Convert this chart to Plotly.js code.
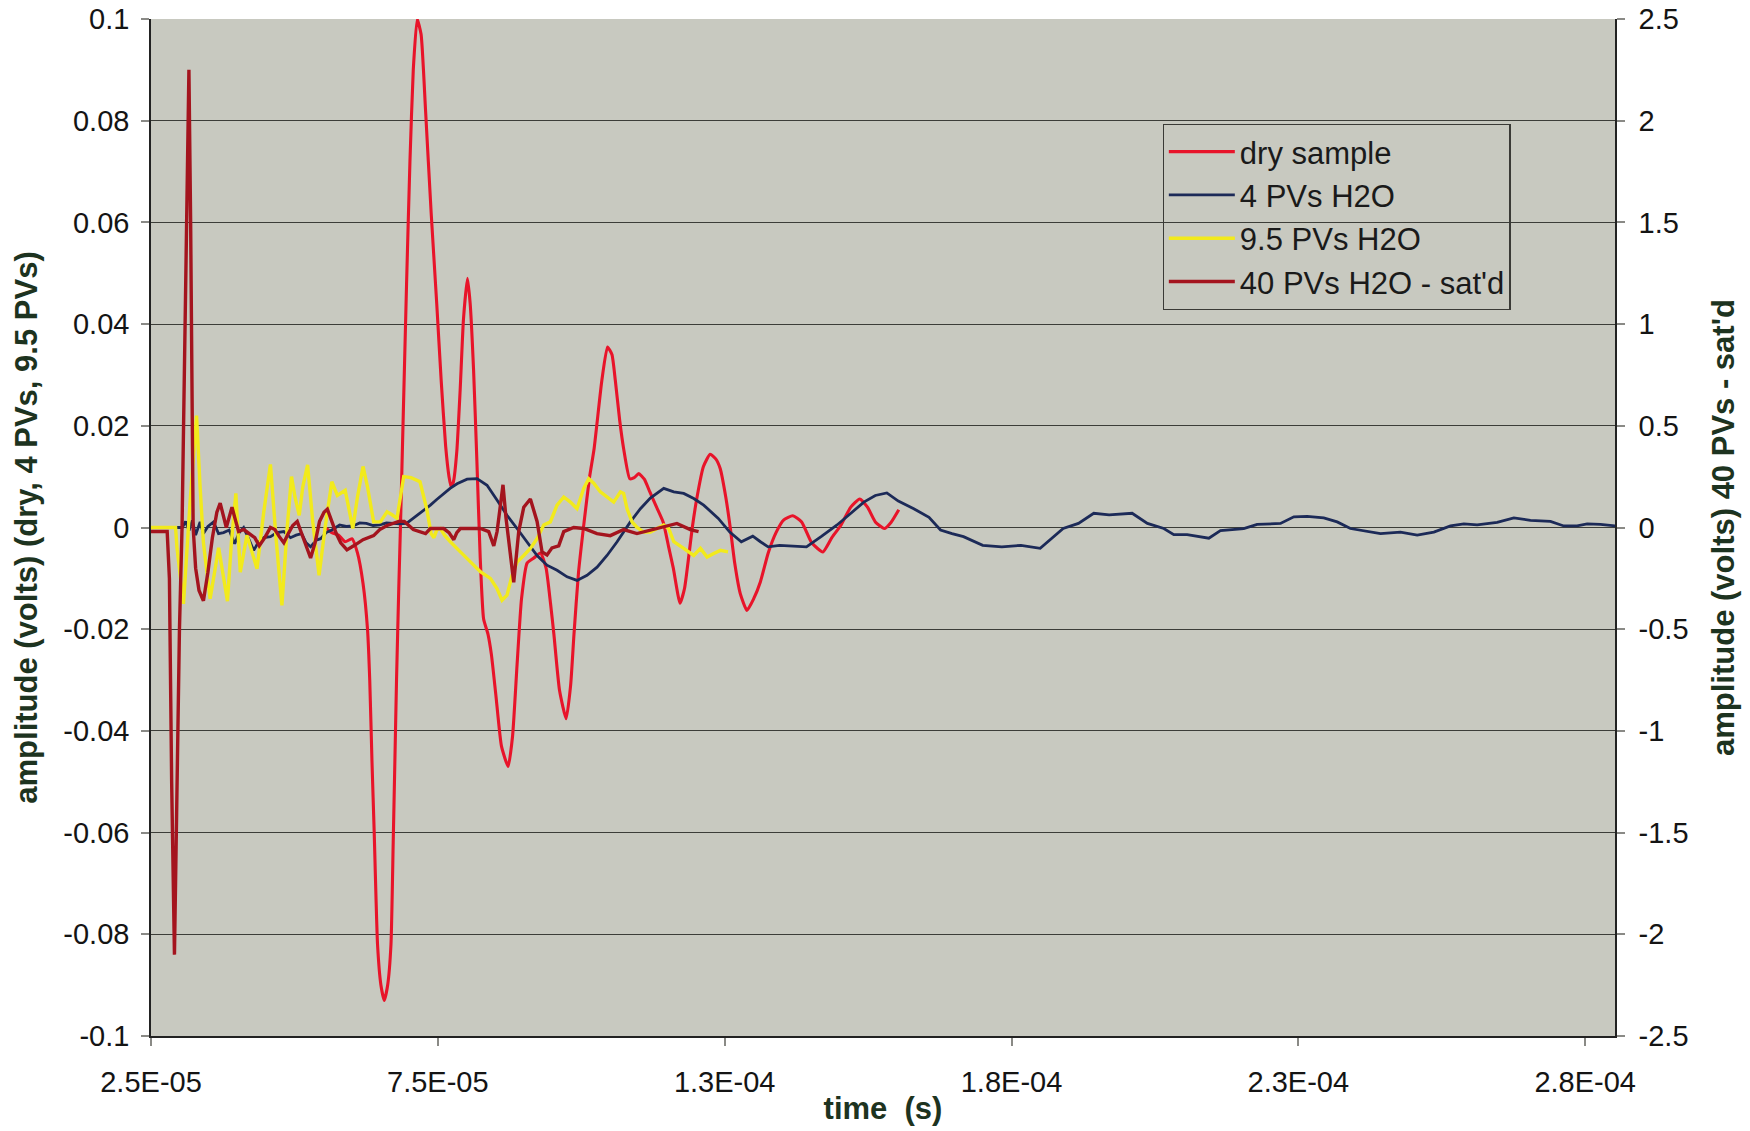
<!DOCTYPE html>
<html>
<head>
<meta charset="utf-8">
<script src="https://cdn.plot.ly/plotly-3.0.1.min.js"></script>
<style>
  html, body { margin: 0; padding: 0; background: #ffffff; }
  #chart { width: 1750px; height: 1131px; }
</style>
</head>
<body>
<div id="chart"></div>
<script>
// Waveform samples: times in microseconds (converted to seconds below), amplitudes in volts.
const dryTimeUs = [55.35,56.52,57.68,58.85,60.02,60.99,61.96,62.74,63.13,63.52,
  63.91,64.49,65.08,65.66,66.25,66.83,67.22,67.51,67.80,68.19,
  68.48,68.97,69.55,70.14,70.72,71.40,72.08,72.86,73.83,74.81,
  75.58,76.36,76.95,77.33,77.72,78.31,78.89,79.47,80.16,80.64,
  81.23,81.81,82.39,82.98,83.75,84.34,85.12,86.09,87.26,88.03,
  88.81,89.59,90.56,91.73,92.90,93.87,94.65,95.23,96.21,97.37,
  98.15,98.73,99.51,100.49,101.46,102.24,103.60,104.57,105.35,105.93,
  106.71,107.39,108.46,109.24,110.02,110.99,111.96,113.13,114.30,115.27,
  116.05,117.22,118.00,118.77,119.36,120.14,121.30,122.47,123.44,124.22,
  125.19,125.97,126.75,127.72,128.89,130.06,131.22,132.59,133.95,135.31,
  136.87,138.42,140.17,142.12,143.68,145.23,146.98,148.54,149.90,151.26,
  152.82,153.99,155.35];
const dryVolts = [0,-0.001,-0.0015,-0.0028,-0.0022,-0.005,-0.011,-0.02,-0.03,-0.046,
  -0.06,-0.082,-0.09,-0.093,-0.09,-0.082,-0.062,-0.046,-0.03,-0.012,
  0.0,0.022,0.048,0.072,0.09,0.1,0.097,0.082,0.062,0.044,
  0.029,0.016,0.01,0.008,0.009,0.015,0.027,0.041,0.049,0.044,
  0.031,0.013,-0.006,-0.018,-0.021,-0.025,-0.033,-0.043,-0.047,-0.041,
  -0.027,-0.014,-0.007,-0.006,-0.005,-0.008,-0.015,-0.021,-0.032,-0.0376,
  -0.031,-0.021,-0.009,0.001,0.01,0.0155,0.029,0.0355,0.034,0.029,
  0.021,0.0155,0.0096,0.0098,0.0106,0.0095,0.007,0.004,0.001,-0.004,
  -0.008,-0.0149,-0.012,-0.0054,0.0,0.0057,0.012,0.0144,0.0135,0.0116,
  0.006,0.0,-0.007,-0.013,-0.0163,-0.014,-0.0107,-0.005,-0.001,0.0015,
  0.0023,0.0011,-0.003,-0.0048,-0.002,0.0004,0.004,0.0056,0.004,0.0011,
  -0.0002,0.001,0.0035];

const pv4TimeUs = [25.00,29.86,30.45,31.03,31.62,32.20,32.78,33.56,34.14,34.92,
  35.90,36.77,37.65,38.62,39.59,40.37,41.15,41.93,42.90,43.68,
  44.65,45.82,46.98,48.15,49.32,50.29,51.26,52.04,52.82,53.79,
  54.57,55.54,56.52,57.88,59.05,60.21,61.38,62.55,63.72,64.88,
  66.05,67.22,68.38,69.55,70.72,71.89,72.67,73.70,74.81,76.01,
  77.14,78.35,80.10,81.83,83.58,85.31,87.06,88.81,90.54,92.30,
  94.03,95.78,97.53,99.26,101.01,102.76,104.49,106.25,108.56,110.31,
  112.04,114.38,116.13,117.86,119.61,121.34,123.89,125.89,127.90,129.90,
  131.24,132.57,134.57,137.26,139.26,141.93,144.59,146.59,149.26,151.26,
  153.27,155.27,157.96,160.62,162.63,164.63,166.63,169.98,173.31,176.65,
  180.00,184.01,186.67,189.34,192.02,196.03,198.69,201.55,203.29,205.62,
  207.94,209.40,211.42,213.17,215.48,217.82,221.89,224.22,226.53,229.43,
  231.77,234.08,236.42,239.32,242.80,245.72,248.62,251.52,253.85,256.17,
  259.65,262.57,265.46,268.95,271.28,273.60,275.35,277.66,280.25];
const pv4Volts = [0,0,0,0.0012,-0.0006,0.0014,-0.0015,0.0011,-0.0012,0.0002,
  0.0011,-0.0012,-0.001,-0.0005,-0.0032,-0.001,0.0,-0.002,-0.0045,-0.003,
  -0.002,-0.0018,-0.001,-0.0008,-0.002,-0.0015,-0.0012,-0.003,-0.0038,-0.0025,
  -0.0022,-0.001,-0.0005,0.0005,0.0002,0.0003,0.0009,0.0008,0.0004,0.0005,
  0.0009,0.0008,0.0007,0.0008,0.0018,0.0028,0.0036,0.0044,0.0055,0.0067,
  0.0077,0.0086,0.0095,0.0096,0.0083,0.0054,0.0024,-0.0002,-0.0028,-0.0055,
  -0.0074,-0.0084,-0.0097,-0.0104,-0.0094,-0.0078,-0.0055,-0.0028,0.0011,0.0037,
  0.0058,0.0077,0.007,0.0067,0.0057,0.0044,0.0018,-0.0009,-0.0028,-0.0017,
  -0.0028,-0.0038,-0.0035,-0.0036,-0.0038,-0.0017,0.0005,0.0024,0.005,0.0063,
  0.0068,0.0052,0.0037,0.002,-0.0005,-0.0012,-0.0018,-0.0035,-0.0038,-0.0035,
  -0.0041,-0.0002,0.0008,0.0028,0.0025,0.0028,0.0008,-0.0002,-0.0014,-0.0014,
  -0.0019,-0.0021,-0.0006,-0.0004,-0.0002,0.0006,0.0008,0.0021,0.0022,0.0019,
  0.0011,-0.0002,-0.0007,-0.0012,-0.0009,-0.0015,-0.0009,0.0003,0.0007,0.0005,
  0.001,0.0019,0.0014,0.0012,0.0003,0.0003,0.0007,0.0006,0.0003];

const pv95TimeUs = [25.00,29.28,29.53,30.66,31.81,32.94,33.56,34.14,35.31,36.79,
  38.33,39.01,39.79,40.56,41.73,43.48,44.65,45.82,46.79,47.82,
  48.74,49.49,50.10,50.84,51.46,52.30,53.21,54.30,55.35,56.52,
  57.49,58.07,58.85,59.44,60.18,60.99,61.96,62.74,63.81,64.98,
  66.15,67.02,67.88,69.05,70.33,71.89,73.05,73.83,74.32,74.81,
  75.45,76.17,77.18,78.93,80.66,82.41,84.16,85.31,86.19,87.06,
  87.94,88.81,89.98,91.13,92.30,93.46,94.61,95.78,96.95,98.11,
  99.26,100.43,101.30,102.18,103.33,104.49,105.66,106.83,107.39,107.98,
  108.85,109.73,110.89,112.04,113.21,114.38,115.25,116.13,117.86,119.61,
  120.78,121.93,123.09,124.26,125.58];
const pv95Volts = [0,0,-0.004,-0.015,0.005,0.022,0.008,-0.003,-0.014,-0.004,
  -0.0145,-0.003,0.0067,-0.0088,-0.0015,-0.0081,0.003,0.0124,-0.002,-0.0153,
  0.0,0.01,0.006,0.0024,0.008,0.0123,0.001,-0.0094,0.0,0.009,
  0.0063,0.0068,0.0073,0.004,-0.0002,0.006,0.012,0.008,0.0011,0.0011,
  0.0031,0.0025,0.0018,0.01,0.0098,0.009,0.0037,-0.0012,-0.002,-0.0005,
  -0.0002,-0.0015,-0.0028,-0.0048,-0.0068,-0.0087,-0.01,-0.012,-0.0143,-0.0133,
  -0.0094,-0.0068,-0.0055,-0.0041,-0.0022,0.0005,0.0011,0.0044,0.006,0.005,
  0.0037,0.0077,0.0096,0.0087,0.007,0.006,0.005,0.007,0.0067,0.0037,
  0.0011,0.0,-0.0009,-0.0009,-0.0002,0.0005,-0.0002,-0.0028,-0.0041,-0.0055,
  -0.0041,-0.0058,-0.0051,-0.0045,-0.0048];

// Saturated sample, read on the right-hand axis.
const satTimeUs = [25.00,27.82,28.21,28.60,29.09,29.57,29.96,30.41,30.74,31.23,
  31.61,31.91,32.14,32.35,32.78,33.37,34.14,34.92,35.70,36.48,
  37.06,37.65,38.13,38.62,39.12,39.59,40.27,41.15,42.12,43.09,
  43.87,44.84,45.82,46.60,47.37,48.15,48.93,49.71,50.49,51.26,
  52.04,52.82,53.60,54.38,55.16,55.74,56.52,57.30,58.07,59.16,
  60.33,61.96,63.81,64.88,66.15,68.19,69.16,70.72,72.86,73.70,
  76.01,76.95,77.78,78.31,78.93,82.41,83.87,84.75,85.33,85.80,
  86.36,86.87,87.35,88.23,89.10,89.98,91.13,92.30,93.17,94.03,
  94.90,96.07,96.95,98.68,100.43,102.74,105.06,107.39,109.71,113.19,
  116.67,119.01,120.45];
const satVolts = [-0.02,-0.02,-0.25,-1.25,-2.1,-1.15,-0.5,0.0,0.62,1.62,
  2.25,1.5,0.62,0.0,-0.2,-0.31,-0.36,-0.22,-0.05,0.075,
  0.12,0.05,0.0,0.05,0.1,0.05,-0.02,-0.01,-0.03,-0.05,
  -0.09,-0.05,0.0,-0.01,-0.045,-0.075,-0.03,0.01,0.03,-0.03,
  -0.1,-0.15,-0.075,0.03,0.075,0.09,0.03,-0.03,-0.075,-0.11,
  -0.09,-0.06,-0.04,-0.01,0.01,0.03,0.03,-0.01,-0.03,-0.005,
  -0.005,-0.025,-0.06,-0.025,-0.005,-0.005,-0.02,-0.09,-0.02,0.1,
  0.21,0.05,-0.07,-0.27,-0.02,0.1,0.14,0.03,-0.12,-0.135,
  -0.1,-0.09,-0.02,0.0,-0.005,-0.03,-0.04,-0.01,-0.03,-0.005,
  0.02,-0.01,-0.02];

const seriesNames = ["dry sample", "4 PVs H2O", "9.5 PVs H2O", "40 PVs H2O - sat'd"];
const seriesColors = ["#e8142a", "#1c2a58", "#f2ea1c", "#a4141e"];

const timeTickVals = [2.5e-5, 7.5e-5, 1.25e-4, 1.75e-4, 2.25e-4, 2.75e-4];
const timeTickText = ["2.5E-05", "7.5E-05", "1.3E-04", "1.8E-04", "2.3E-04", "2.8E-04"];
const leftTickVals = [0.1, 0.08, 0.06, 0.04, 0.02, 0, -0.02, -0.04, -0.06, -0.08, -0.1];
const leftTickText = ["0.1", "0.08", "0.06", "0.04", "0.02", "0", "-0.02", "-0.04", "-0.06", "-0.08", "-0.1"];
const rightTickVals = [2.5, 2, 1.5, 1, 0.5, 0, -0.5, -1, -1.5, -2, -2.5];
const rightTickText = ["2.5", "2", "1.5", "1", "0.5", "0", "-0.5", "-1", "-1.5", "-2", "-2.5"];

const toSeconds = arr => arr.map(t => t * 1e-6);

const fontFamily = '"Liberation Sans", Arial, Helvetica, sans-serif';
const titleColor = '#1d3320';
const tickFont = { family: fontFamily, size: 29, color: '#141414' };
const titleFont = { family: fontFamily, size: 31, color: titleColor };

const traces = [
  { x: toSeconds(dryTimeUs), y: dryVolts, name: seriesNames[0], yaxis: 'y',
    mode: 'lines', line: { color: seriesColors[0], width: 3.1, shape: 'spline', smoothing: 0.5 } },
  { x: toSeconds(pv4TimeUs), y: pv4Volts, name: seriesNames[1], yaxis: 'y',
    mode: 'lines', line: { color: seriesColors[1], width: 2.8 } },
  { x: toSeconds(pv95TimeUs), y: pv95Volts, name: seriesNames[2], yaxis: 'y',
    mode: 'lines', line: { color: seriesColors[2], width: 3.4 } },
  { x: toSeconds(satTimeUs), y: satVolts, name: seriesNames[3], yaxis: 'y2',
    mode: 'lines', line: { color: seriesColors[3], width: 3.4 } }
];

const layout = {
  width: 1750,
  height: 1131,
  margin: { l: 151, r: 135, t: 19, b: 95, pad: 0 },
  paper_bgcolor: '#ffffff',
  plot_bgcolor: '#c8c9c0',
  font: { family: fontFamily, color: '#141414', size: 29 },
  showlegend: true,
  legend: {
    x: 0.691, xanchor: 'left', y: 0.897, yanchor: 'top',
    bgcolor: 'rgba(0,0,0,0)', bordercolor: '#3a3a36', borderwidth: 1.2,
    font: { family: fontFamily, size: 31, color: '#1a1a1a' },
    itemwidth: 66, tracegroupgap: 0
  },
  xaxis: {
    range: [2.5e-5, 2.802e-4],
    tickmode: 'array', tickvals: timeTickVals, ticktext: timeTickText,
    ticks: 'outside', ticklen: 8, tickwidth: 1.5, tickcolor: '#8a8a86',
    ticklabelstandoff: 11,
    tickfont: tickFont,
    showgrid: false, zeroline: false,
    showline: true, linecolor: '#222222', linewidth: 2,
    title: { text: '<b>time\u00a0 (s)</b>', font: titleFont, standoff: 1 }
  },
  yaxis: {
    range: [-0.1, 0.1],
    tickmode: 'array', tickvals: leftTickVals, ticktext: leftTickText,
    ticks: 'outside', ticklen: 8, tickwidth: 1.5, tickcolor: '#8a8a86',
    ticklabelstandoff: 6,
    tickfont: tickFont,
    showgrid: true, gridcolor: '#3c3d38', gridwidth: 1.2, zeroline: false,
    showline: true, linecolor: '#222222', linewidth: 1.5,
    title: { text: '<b>amplitude (volts) (dry, 4 PVs, 9.5 PVs)</b>', font: titleFont, standoff: 16 }
  },
  yaxis2: {
    overlaying: 'y', side: 'right',
    range: [-2.5, 2.5],
    tickmode: 'array', tickvals: rightTickVals, ticktext: rightTickText,
    ticks: 'outside', ticklen: 8, tickwidth: 1.5, tickcolor: '#8a8a86',
    ticklabelstandoff: 8,
    tickfont: tickFont,
    showgrid: false, zeroline: false,
    showline: true, linecolor: '#222222', linewidth: 1.5,
    title: { text: "<b>amplitude (volts) 40 PVs - sat'd</b>", font: titleFont, standoff: 25 }
  }
};

Plotly.newPlot('chart', traces, layout, { displayModeBar: false, responsive: false });
</script>
</body>
</html>
